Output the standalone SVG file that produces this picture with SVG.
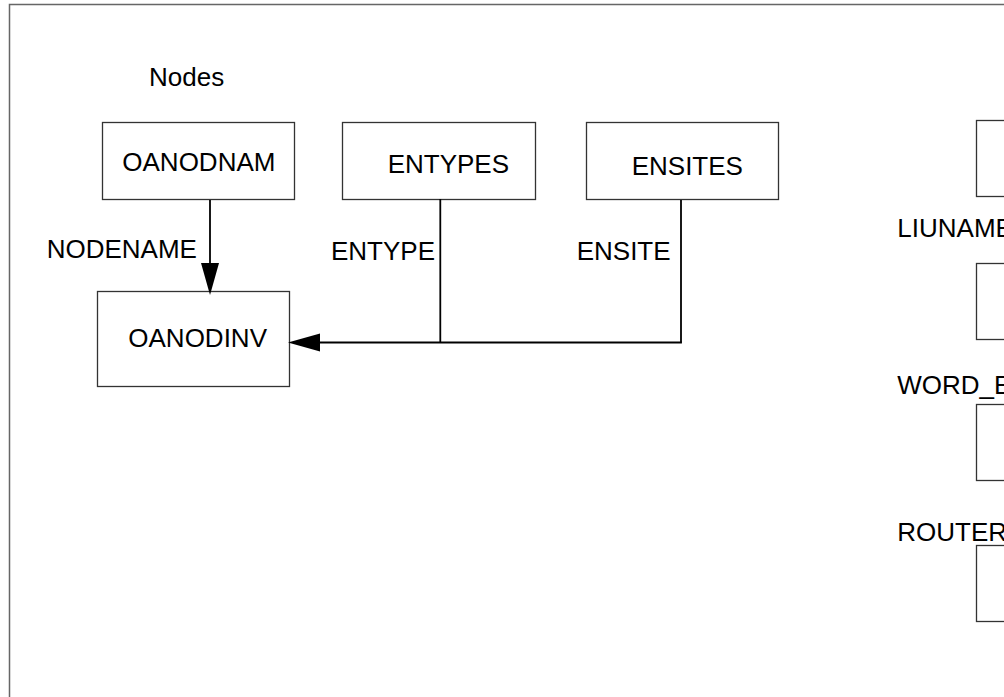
<svg xmlns="http://www.w3.org/2000/svg" width="1004" height="697" viewBox="0 0 1004 697">
<style>
text{font-family:"Liberation Sans",Arial,sans-serif;font-size:26px;fill:#000}
.box{fill:#fff;stroke:#333;stroke-width:1.3}
.conn{fill:none;stroke:#000;stroke-width:1.8}
.head{fill:#000;stroke:none}
</style>
<rect x="0" y="0" width="1004" height="697" fill="#fff"/>
<rect x="9.5" y="4.5" width="1100" height="800" fill="none" stroke="#666" stroke-width="1.5"/>
<text x="149" y="86">Nodes</text>
<g id="OANODNAM"><rect class="box" x="102.5" y="122.5" width="192" height="77"/><text x="122.3" y="171">OANODNAM</text></g>
<g id="ENTYPES"><rect class="box" x="342.5" y="122.5" width="193" height="77"/><text x="387.7" y="172.7">ENTYPES</text></g>
<g id="ENSITES"><rect class="box" x="586.5" y="122.5" width="192" height="77"/><text x="631.7" y="175">ENSITES</text></g>
<g id="OANODINV"><rect class="box" x="97.5" y="291.5" width="192" height="95"/><text x="128.3" y="346.7">OANODINV</text></g>
<g id="LIUNAME_BOX"><rect class="box" x="976.5" y="120.5" width="192" height="76"/></g>
<g id="WORD_E_BOX"><rect class="box" x="976.5" y="263.5" width="192" height="76"/></g>
<g id="ROUTER_BOX1"><rect class="box" x="976.5" y="404.5" width="192" height="76"/></g>
<g id="ROUTER_BOX2"><rect class="box" x="976.5" y="545.5" width="192" height="76"/></g>
<g id="connectors">
<line class="conn" x1="210" y1="200" x2="210" y2="265"/>
<polygon class="head" points="201,263 219,263 210,295"/>
<line class="conn" x1="440.3" y1="199" x2="440.3" y2="342.5"/>
<line class="conn" x1="681" y1="200" x2="681" y2="342.5"/>
<polyline class="conn" points="318,342.5 681.9,342.5"/>
<polygon class="head" points="320,333.5 320,351.5 288,342.5"/>
</g>
<g id="labels">
<text x="46.7" y="258.3">NODENAME</text>
<text x="331" y="260">ENTYPE</text>
<text x="576.7" y="260">ENSITE</text>
<text x="897.3" y="236.7">LIUNAME</text>
<text x="897.3" y="394">WORD_E</text>
<text x="897.3" y="541">ROUTER</text>
</g>
</svg>
